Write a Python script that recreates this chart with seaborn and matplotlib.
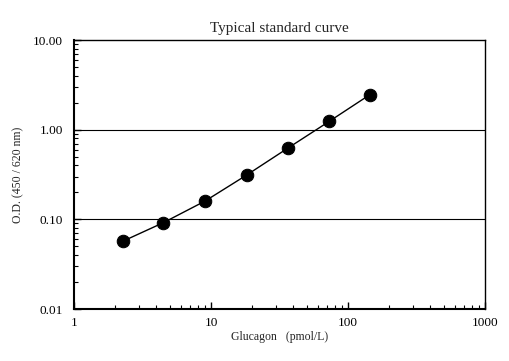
import numpy as np
import pandas as pd
import matplotlib
matplotlib.use('Agg')
import matplotlib.pyplot as plt
import seaborn as sns
from matplotlib.ticker import FixedLocator, FixedFormatter, LogLocator, NullFormatter

# Standard curve data
glucagon = [2.27, 4.5, 9.05, 18.2, 36.2, 73.0, 145.0]
od = [0.057, 0.092, 0.160, 0.312, 0.620, 1.24, 2.47]

x_ticks = [1, 10, 100, 1000]
x_tick_labels = ['1', '10', '100', '1000']
y_ticks = [0.01, 0.1, 1, 10]
y_tick_labels = ['0.01', '0.10', '1.00', '10.00']

df = pd.DataFrame({'glucagon': glucagon, 'od': od})

sns.set_style('white')
plt.rcParams['font.family'] = ['Liberation Serif', 'DejaVu Serif']

fig = plt.figure(figsize=(5.09, 3.61), dpi=100)
ax = fig.add_axes([0.1454, 0.144, 0.8074, 0.745])

sns.lineplot(data=df, x='glucagon', y='od', ax=ax, color='black', linewidth=1.0,
             marker='o', markersize=9, markeredgecolor='black', markerfacecolor='black')

ax.set_xscale('log')
ax.set_yscale('log')
ax.set_xlim(1, 1000)
ax.set_ylim(0.01, 10)

# horizontal gridlines at the major y ticks
for yv in [0.1, 1]:
    ax.axhline(yv, color='black', linewidth=0.8, zorder=0)

ax.xaxis.set_major_locator(FixedLocator(x_ticks))
ax.xaxis.set_major_formatter(FixedFormatter(x_tick_labels))
ax.yaxis.set_major_locator(FixedLocator(y_ticks))
ax.yaxis.set_major_formatter(FixedFormatter(y_tick_labels))
ax.xaxis.set_minor_locator(LogLocator(base=10, subs=np.arange(2, 10)))
ax.yaxis.set_minor_locator(LogLocator(base=10, subs=np.arange(2, 10)))
ax.xaxis.set_minor_formatter(NullFormatter())
ax.yaxis.set_minor_formatter(NullFormatter())

ax.tick_params(axis='both', which='both', direction='in', top=False, right=False,
               bottom=True, left=True, colors='black', labelsize=9.5)
ax.tick_params(axis='both', which='major', length=5, width=1)
ax.tick_params(axis='both', which='minor', length=3, width=0.8)
ax.tick_params(axis='y', which='major', pad=8)
ax.tick_params(axis='x', which='major', pad=6)

for s in ax.spines.values():
    s.set_color('black')
    s.set_linewidth(1.0)
ax.spines['bottom'].set_linewidth(1.5)
ax.spines['left'].set_linewidth(1.5)

ax.set_title('Typical standard curve', fontsize=11, pad=6)
ax.set_xlabel('Glucagon   (pmol/L)', fontsize=8.5, labelpad=1)
ax.set_ylabel('O.D. (450 / 620 nm)', fontsize=8.5, labelpad=6)

fig.savefig('out.png', dpi=100, facecolor='white')
